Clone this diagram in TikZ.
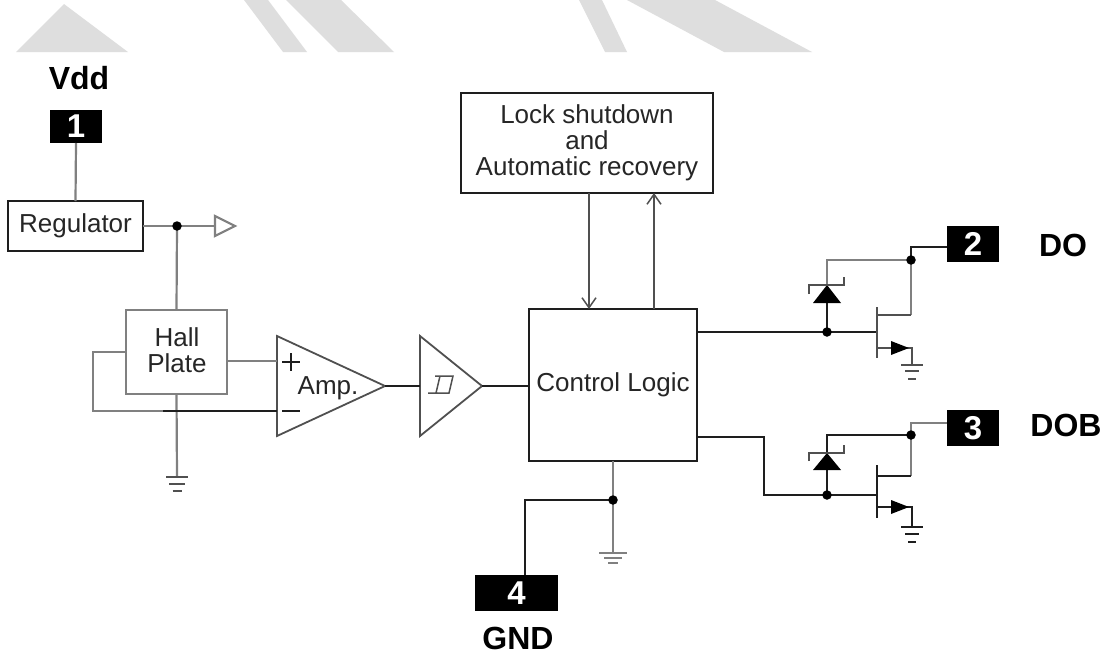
\documentclass[tikz,border=0pt]{standalone}
\usepackage{fontspec}
\setmainfont{Liberation Sans}
\usetikzlibrary{arrows.meta}
\definecolor{wire}{HTML}{1E1E1E}
\definecolor{soft}{HTML}{808080}
\definecolor{mid}{HTML}{505050}
\definecolor{band}{HTML}{DEDEDE}
\tikzset{
  x=1pt,y=-1pt,
  darkline/.style={draw=wire,line width=2pt},
  softline/.style={draw=soft,line width=2.2pt},
  midline/.style={draw=mid,line width=1.8pt},
  txt/.style={font=\fontsize{26}{26}\selectfont,text=black!85,align=center,inner sep=0pt},
  boldtxt/.style={font=\bfseries\fontsize{32}{32}\selectfont,inner sep=0pt},
  pinbox/.style={fill=black,text=white,font=\bfseries\fontsize{33}{33}\selectfont,inner sep=0pt,outer sep=0pt},
  blockbox/.style={draw=wire,line width=2pt,fill=white,inner sep=0pt,outer sep=0pt},
  softbox/.style={draw=soft,line width=2.4pt,inner sep=0pt,outer sep=0pt},
  junction/.style={circle,fill=black,inner sep=0pt,minimum size=9.5pt},
  barb/.style={-{Straight Barb[length=10pt,width=14pt,line width=1.5pt]}},
}
\begin{document}
\begin{tikzpicture}
\useasboundingbox (0,0) rectangle (1113,656);
\fill[white] (0,0) rectangle (1113,656);
% grey bands
\fill[band] (64,4) -- (128,52) -- (16,52) -- cycle;
\fill[band] (244,0) -- (268,0) -- (307,52) -- (283,52) -- cycle;
\fill[band] (286,0) -- (341,0) -- (394,52) -- (338,52) -- cycle;
\fill[band] (579,0) -- (602,0) -- (627,52) -- (605,52) -- cycle;
\fill[band] (627,0) -- (715,0) -- (812,52) -- (724,52) -- cycle;
% labels and pins
\node[boldtxt] (vddlabel) at (79,78) {Vdd};
\node[boldtxt] (dolabel) at (1063,245) {DO};
\node[boldtxt] (doblabel) at (1066,425) {DOB};
\node[boldtxt] (gndlabel) at (518,638) {GND};
\node[pinbox,minimum width=52pt,minimum height=33pt] (pinone) at (76,126.5) {1};
\node[pinbox,minimum width=52pt,minimum height=36pt] (pintwo) at (973,244) {2};
\node[pinbox,minimum width=52pt,minimum height=36pt] (pinthree) at (973,428) {3};
\node[pinbox,minimum width=83pt,minimum height=36pt] (pinfour) at (516.5,593) {4};
% blocks
\node[blockbox,txt,minimum width=135pt,minimum height=50pt] (reg) at (75.5,226) {Regulator};
\node[softbox,txt,minimum width=101pt,minimum height=84pt] (hall) at (176.5,352) {};
\node[txt] (halltext) at (177,350) {Hall\\Plate};
\node[blockbox,minimum width=168pt,minimum height=152pt] (logic) at (613,385) {};
\node[txt] (logictext) at (613,385) {Control Logic};
\node[blockbox,txt,minimum width=252pt,minimum height=100pt] (lock) at (587,143) {Lock shutdown\\and\\Automatic recovery};
% triangles
\coordinate (ampa) at (277,336); \coordinate (ampb) at (277,436); \coordinate (ampout) at (385,386);
\coordinate (ampplus) at (277,361); \coordinate (ampminus) at (277,411);
\coordinate (trigin) at (420,386); \coordinate (triga) at (420,336); \coordinate (trigb) at (420,436);
\coordinate (trigout) at (482,386);
\draw[midline,line join=miter] (ampa) -- (ampout) -- (ampb) -- cycle;
\draw[midline,line join=miter] (triga) -- (trigout) -- (trigb) -- cycle;
\node[txt] (amplabel) at (328,388) {Amp.};
% plus, minus
\coordinate (pl) at (282,362); \coordinate (pr) at (300,362); \coordinate (pt) at (291,353); \coordinate (pb) at (291,371);
\coordinate (ml) at (282,411); \coordinate (mr) at (300,411);
\draw[wire,line width=1.8pt] (pl) -- (pr) (pt) -- (pb) (ml) -- (mr);
% hysteresis
\coordinate (ha) at (428,393); \coordinate (hb) at (449,393); \coordinate (hc) at (435,376); \coordinate (hd) at (453,376);
\coordinate (he) at (436,393); \coordinate (hf) at (440,376);
\draw[midline,line width=1.5pt] (ha) -- (hb) -- (hd) -- (hc) (he) -- (hf);
% regulator output
\coordinate (regj) at (177,226);
\coordinate (outtip) at (235,226); \coordinate (outa) at (215,216); \coordinate (outb) at (215,236); \coordinate (outm) at (215,226);
\draw[softline] (pinone.south) -- (reg.north);
\draw[softline] (reg.east) -- (outm);
\draw[softline] (outa) -- (outtip) -- (outb) -- cycle;
\draw[softline] (regj) -- (hall.north);
% hall plate
\coordinate (hallr) at (227,361);
\coordinate (halll) at (126,352);
\coordinate (fba) at (93,352); \coordinate (fbb) at (93,411); \coordinate (fbc) at (163,411);
\coordinate (gndone) at (177,477);
\draw[softline] (hallr) -- (ampplus);
\draw[softline,line join=miter] (halll) -- (fba) -- (fbb) -- (fbc);
\draw[softline] (hall.south) -- (gndone);
\draw[darkline] (fbc) -- (ampminus);
% ground 1
\foreach \n/\yy/\hw in {a/477/11,b/484/8,c/491/4.5}{
  \coordinate (g1\n l) at (177-\hw,\yy); \coordinate (g1\n r) at (177+\hw,\yy);
  \draw[midline] (g1\n l) -- (g1\n r);
}
% signal path
\draw[darkline] (ampout) -- (trigin);
\draw[darkline] (trigout) -- (logic.west|-trigout);
% lock
\coordinate (lockd) at (589,193); \coordinate (logicu) at (589,309);
\coordinate (logiv) at (654,309); \coordinate (locku) at (654,193);
\draw[midline,barb] (lockd) -- (logicu);
\draw[midline,barb] (logiv) -- (locku);
% gnd branch
\coordinate (gndj) at (613,500); \coordinate (gndturn) at (525,500); \coordinate (gndtwo) at (613,553);
\coordinate (pinfourtop) at (525,575);
\draw[softline] (logic.south) -- (gndtwo);
\draw[darkline,line join=miter] (gndj) -- (gndturn) -- (pinfourtop);
\foreach \n/\yy/\hw in {a/553/14,b/558/9,c/563/5}{
  \coordinate (g2\n l) at (613-\hw,\yy); \coordinate (g2\n r) at (613+\hw,\yy);
  \draw[softline] (g2\n l) -- (g2\n r);
}
% --- output stage DO
\coordinate (loa) at (697,332); \coordinate (gatea) at (877,332); \coordinate (dja) at (827,332);
\coordinate (dta) at (827,260); \coordinate (dra) at (911,260); \coordinate (pja) at (911,247);
\coordinate (pka) at (947,247);
\coordinate (fetat) at (877,307); \coordinate (fetab) at (877,358);
\coordinate (drna) at (877,315); \coordinate (drnb) at (911,315);
\coordinate (srca) at (877,348); \coordinate (srcb) at (912,348); \coordinate (srcc) at (912,365);
\coordinate (dacath) at (827,285); \coordinate (daan) at (827,303);
\draw[darkline] (loa) -- (gatea);
\draw[darkline] (dja) -- (daan);
\draw[softline,line join=miter] (dacath) -- (dta) -- (dra) -- (drnb);
\draw[midline] (drnb) -- (drna);
\draw[darkline,line join=miter] (dra) -- (pja) -- (pka);
\draw[midline] (fetat) -- (fetab);
\draw[midline,line join=miter] (srca) -- (srcb) -- (srcc);
\fill[black] (dacath) -- (841,303) -- (813,303) -- cycle;
\draw[midline,line width=1.5pt,line join=miter] (809,294) -- (809,285) -- (844,285) -- (844,277);
\fill[black] (909,348) -- (891,341) -- (891,355) -- cycle;
\foreach \n/\yy/\hw in {a/365/11,b/371/7,c/379/4}{
  \coordinate (g3\n l) at (912-\hw,\yy); \coordinate (g3\n r) at (912+\hw,\yy);
  \draw[midline] (g3\n l) -- (g3\n r);
}
% --- output stage DOB
\coordinate (lob) at (697,437); \coordinate (tba) at (764,437); \coordinate (tbb) at (764,495);
\coordinate (gateb) at (877,495); \coordinate (djb) at (827,495);
\coordinate (dtb) at (827,435); \coordinate (drb) at (911,435); \coordinate (pjb) at (911,423);
\coordinate (pkb) at (947,423);
\coordinate (fetbt) at (877,465); \coordinate (fetbb) at (877,518);
\coordinate (drnc) at (877,476); \coordinate (drnd) at (911,476);
\coordinate (srcd) at (877,507); \coordinate (srce) at (912,507); \coordinate (srcf) at (912,527);
\coordinate (dbcath) at (827,453); \coordinate (dban) at (827,470);
\draw[darkline,line join=miter] (lob) -- (tba) -- (tbb) -- (gateb);
\draw[darkline] (djb) -- (dban);
\draw[darkline,line join=miter] (dbcath) -- (dtb) -- (drb);
\draw[softline,line join=miter] (drb) -- (drnd);
\draw[darkline] (drnd) -- (drnc);
\draw[softline,line join=miter] (drb) -- (pjb) -- (pkb);
\draw[darkline] (fetbt) -- (fetbb);
\draw[darkline,line join=miter] (srcd) -- (srce) -- (srcf);
\fill[black] (dbcath) -- (841,470) -- (813,470) -- cycle;
\draw[midline,line width=1.5pt,line join=miter] (809,461) -- (809,453) -- (844,453) -- (844,445);
\fill[black] (909,507) -- (891,500) -- (891,514) -- cycle;
\foreach \n/\yy/\hw in {a/527/11,b/534/7,c/542/4}{
  \coordinate (g4\n l) at (912-\hw,\yy); \coordinate (g4\n r) at (912+\hw,\yy);
  \draw[darkline] (g4\n l) -- (g4\n r);
}
% junction dots
\node[junction] (dotreg) at (regj) {};
\node[junction] (dotgnd) at (gndj) {};
\node[junction] (dotda) at (dja) {};
\node[junction] (dotra) at (dra) {};
\node[junction] (dotdb) at (djb) {};
\node[junction] (dotrb) at (drb) {};
\end{tikzpicture}
\end{document}
